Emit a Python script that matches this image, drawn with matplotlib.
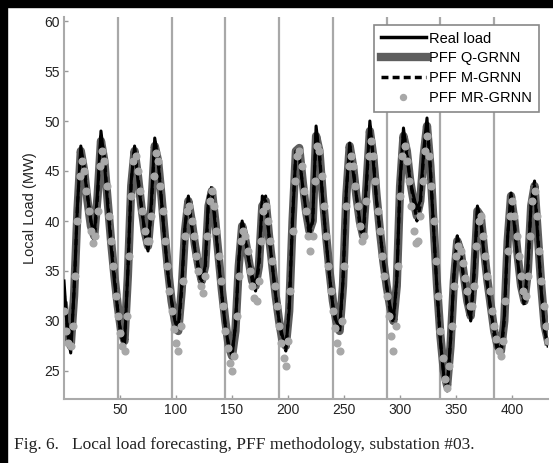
import numpy as np
import matplotlib
matplotlib.use("Agg")
import matplotlib.pyplot as plt
from matplotlib.lines import Line2D
from matplotlib.patches import Rectangle

plt.rcParams["font.family"] = ["Liberation Sans", "DejaVu Sans"]

# half-hour index: lines sampled every 3 steps, MR-GRNN points every 2 steps
x_start, x_stop = 0, 432
line_step, point_step = 3, 2

real_load = [34.0, 29.0, 26.8, 33.0, 41.5, 47.5, 45.0, 42.5, 40.0, 38.5, 43.0, 49.0, 46.0, 41.5, 37.5, 34.0,
             31.0, 28.5, 27.5, 35.0, 44.0, 47.5, 44.0, 41.5, 39.0, 37.0, 42.0, 48.3, 46.0, 42.0, 38.0, 34.5,
             32.0, 30.0, 29.5, 33.5, 39.5, 42.5, 39.5, 37.0, 35.5, 34.0, 35.5, 42.5, 43.0, 39.5, 36.0, 32.5,
             29.5, 27.5, 26.5, 29.5, 36.0, 40.0, 38.0, 36.0, 34.5, 33.5, 36.0, 42.5, 42.0, 38.5, 35.5, 32.5,
             30.0, 28.5, 27.3, 31.0, 40.0, 47.0, 46.5, 43.5, 41.0, 39.0, 40.0, 49.5, 46.5, 42.0, 38.0, 34.5,
             31.5, 30.0, 29.3, 34.0, 43.0, 47.8, 45.0, 42.5, 40.0, 38.5, 44.0, 50.0, 46.0, 42.0, 39.0, 36.0,
             33.5, 31.5, 30.2, 34.0, 44.0, 49.3, 46.5, 44.0, 42.5, 41.2, 42.0, 47.0, 50.3, 45.0, 39.0, 33.0,
             28.0, 24.5, 23.3, 28.0, 34.5, 38.5, 36.5, 34.0, 31.5, 30.3, 35.0, 41.5, 40.0, 36.5, 33.5, 31.0,
             29.0, 27.5, 27.0, 30.5, 38.5, 42.8, 39.5, 36.0, 33.0, 32.0, 35.5, 42.0, 43.5, 38.0, 33.0, 29.0,
             27.5]

pff_q_grnn = [31.5, 28.5, 27.5, 32.5, 41.0, 47.0, 45.0, 42.0, 39.5, 38.5, 42.5, 48.0, 46.0, 42.0, 38.0, 34.5,
              31.5, 29.0, 28.0, 34.5, 43.5, 47.0, 44.5, 41.5, 39.0, 37.5, 41.5, 47.5, 46.0, 42.5, 38.5, 35.0,
              32.0, 30.0, 29.0, 33.0, 39.0, 42.0, 40.0, 37.5, 35.5, 34.0, 35.5, 41.5, 43.0, 40.0, 36.5, 33.0,
              30.0, 27.5, 26.5, 29.0, 35.5, 39.5, 38.0, 36.0, 34.0, 33.5, 35.5, 41.5, 42.0, 38.5, 35.5, 32.5,
              30.0, 28.0, 27.5, 31.0, 40.0, 47.0, 47.3, 44.0, 41.0, 39.0, 40.0, 48.5, 47.0, 42.5, 38.5, 35.0,
              32.0, 30.0, 29.0, 33.5, 42.5, 47.5, 45.5, 42.5, 40.0, 38.5, 43.5, 49.0, 46.5, 42.5, 39.0, 36.0,
              33.5, 31.5, 30.0, 33.5, 43.5, 48.5, 47.0, 44.0, 42.0, 40.5, 42.0, 46.5, 49.5, 45.5, 39.5, 33.5,
              28.5, 25.0, 23.5, 27.5, 34.0, 38.0, 37.0, 34.5, 32.0, 30.5, 34.5, 41.0, 40.5, 37.0, 34.0, 31.5,
              29.0, 27.5, 27.0, 30.0, 38.0, 42.5, 40.0, 36.5, 33.5, 32.0, 35.0, 41.5, 43.5, 38.5, 33.5, 29.5,
              28.0]

pff_m_grnn = [33.0, 29.5, 27.3, 33.0, 41.5, 47.0, 45.5, 42.5, 40.0, 38.0, 42.5, 48.5, 46.5, 42.0, 38.0, 34.5,
              31.0, 28.5, 27.8, 35.0, 44.0, 47.3, 44.5, 41.5, 39.0, 37.0, 41.5, 48.0, 46.5, 42.0, 38.0, 34.5,
              32.0, 30.0, 29.0, 33.0, 39.5, 42.0, 39.5, 37.0, 35.0, 33.5, 35.0, 42.0, 43.5, 40.0, 36.0, 32.5,
              29.5, 27.5, 26.8, 29.5, 36.0, 40.0, 38.5, 36.0, 34.0, 33.0, 35.5, 42.0, 42.5, 38.5, 35.5, 32.5,
              30.0, 28.0, 27.0, 31.5, 40.5, 47.0, 46.5, 43.5, 41.0, 38.5, 40.0, 49.0, 47.0, 42.0, 38.0, 34.5,
              31.5, 29.5, 28.8, 34.0, 43.0, 47.5, 45.5, 42.5, 39.5, 38.0, 43.5, 49.5, 46.5, 42.0, 39.0, 36.0,
              33.5, 31.0, 29.8, 34.0, 44.0, 49.0, 47.0, 44.0, 42.0, 40.0, 41.5, 46.5, 49.8, 45.5, 39.0, 33.0,
              28.0, 24.5, 23.0, 28.0, 34.5, 38.5, 37.0, 34.0, 31.5, 30.0, 34.5, 41.0, 40.5, 36.5, 33.5, 31.0,
              28.5, 27.0, 26.5, 30.0, 38.5, 42.5, 40.0, 36.0, 33.0, 31.5, 35.0, 42.0, 44.0, 38.5, 33.0, 29.0,
              27.5]

pff_mr_grnn = [31.0, 29.0, 27.8, 27.5, 29.5, 34.5, 40.0, 44.5, 46.0, 45.0, 43.0, 41.0, 39.0, 37.8, 38.5, 41.0, 45.5, 47.0, 46.0, 43.5, 40.5, 38.0, 35.5, 32.5,
               30.5, 28.8, 27.5, 27.0, 30.5, 36.5, 42.5, 46.0, 46.5, 45.0, 43.0, 41.0, 39.0, 38.0, 38.0, 40.5, 44.5, 46.8, 46.0, 43.5, 41.0, 38.0, 35.5, 33.0,
               31.0, 29.2, 27.8, 27.0, 29.5, 34.0, 38.5, 41.0, 41.5, 40.0, 38.5, 36.5, 35.0, 33.5, 32.8, 34.5, 38.5, 42.0, 43.0, 41.5, 39.0, 36.5, 34.0, 31.5,
               29.0, 27.3, 25.8, 25.0, 26.5, 30.5, 34.5, 38.0, 39.0, 38.5, 37.0, 35.0, 33.5, 32.3, 32.0, 34.0, 38.0, 41.0, 41.5, 40.0, 38.0, 36.0, 33.5, 31.5,
               29.5, 27.8, 26.3, 25.5, 28.0, 33.0, 39.0, 44.0, 46.5, 47.0, 45.5, 43.0, 41.0, 38.5, 37.0, 38.5, 44.0, 47.5, 47.0, 44.5, 41.5, 38.5, 35.5, 33.0,
               31.0, 29.3, 27.8, 27.0, 30.0, 35.5, 41.5, 45.5, 46.5, 45.5, 43.5, 41.5, 39.5, 38.0, 38.5, 42.0, 46.5, 48.0, 46.5, 44.0, 41.0, 39.0, 36.5, 34.5,
               32.5, 30.5, 28.5, 27.0, 29.5, 35.5, 42.5, 46.5, 47.5, 46.0, 44.0, 41.5, 39.0, 37.8, 38.0, 40.5, 44.0, 47.0, 48.5, 46.5, 43.5, 40.0, 36.0, 32.5,
               29.0, 26.3, 24.2, 23.3, 25.5, 29.5, 33.5, 36.5, 37.5, 37.0, 35.8, 34.3, 33.0, 31.5, 31.5, 33.5, 37.5, 40.0, 40.5, 38.5, 36.5, 34.5, 33.0, 31.0,
               29.5, 28.2, 27.0, 26.5, 28.0, 32.0, 37.0, 40.5, 42.0, 40.5, 38.5, 36.5, 34.5, 33.0, 32.5, 34.5, 38.5, 42.0, 43.0, 40.5, 37.0, 34.0, 31.5, 29.5,
               28.0]

day_lines = [48, 96, 144, 192, 240, 288, 336, 384]
x_ticks = [50, 100, 150, 200, 250, 300, 350, 400]
y_ticks = [25, 30, 35, 40, 45, 50, 55, 60]
legend_labels = ["Real load", "PFF Q-GRNN", "PFF M-GRNN", "PFF MR-GRNN"]
caption = "Fig. 6.   Local load forecasting, PFF methodology, substation #03."

x_line = np.arange(x_start, x_stop + 1, line_step)
x_pts = np.arange(x_start, x_stop + 1, point_step)

fig = plt.figure(figsize=(5.53, 4.63), dpi=100)
ax = fig.add_axes([64 / 553, 64 / 463, 484 / 553, 382 / 463])

for d in day_lines:
    ax.axvline(d, color="#a8a8a8", lw=1.6, zorder=1)

ax.plot(x_line, pff_q_grnn, color="#5e5e5e", lw=6, solid_joinstyle="round", zorder=2)
ax.plot(x_line, real_load, color="black", lw=2.2, zorder=3)
ax.plot(x_line, pff_m_grnn, color="black", lw=2.2, ls=(0, (2.0, 1.5)), zorder=4)
ax.plot(x_pts, pff_mr_grnn, ls="none", marker="o", ms=4.8, mfc="#a8a8a8", mec="#a8a8a8", zorder=5)

ax.set_xlim(0, 432)
ax.set_ylim(22.2, 60.4)
ax.set_xticks(x_ticks)
ax.set_yticks(y_ticks)
ax.tick_params(direction="in", length=3, width=1, colors="#999999", labelcolor="#222222",
               labelsize=10, pad=3)
for s in ["top", "right"]:
    ax.spines[s].set_visible(False)
for s in ["left", "bottom"]:
    ax.spines[s].set_color("#aaaaaa")
    ax.spines[s].set_linewidth(1.5)
ax.set_ylabel("Local Load (MW)", fontsize=10.5, color="#222222", labelpad=5)

handles = [
    Line2D([], [], color="black", lw=2.5),
    Line2D([], [], color="#5e5e5e", lw=6),
    Line2D([], [], color="black", lw=2.5, ls=(0, (2.0, 1.2))),
    Line2D([], [], ls="none", marker="o", ms=4.3, mfc="#a8a8a8", mec="#a8a8a8"),
]
leg = ax.legend(handles, legend_labels, loc="upper right", bbox_to_anchor=(0.981, 0.979),
                borderaxespad=0, fontsize=10.5, frameon=True, fancybox=False, framealpha=1,
                edgecolor="#888888", handlelength=3.1, borderpad=0.45, labelspacing=0.4,
                handletextpad=0.25)
leg.get_frame().set_linewidth(1.2)

fig.text(14 / 553, 1 - 445 / 463, caption, family="Liberation Serif", fontsize=12.5,
         va="center", ha="left", color="#222222")

# scan border (black strips on top and left)
fig.patches.append(Rectangle((0, 1 - 7 / 463), 1, 7 / 463, transform=fig.transFigure,
                             color="black", zorder=10))
fig.patches.append(Rectangle((0, 0), 7 / 553, 1, transform=fig.transFigure,
                             color="black", zorder=10))

fig.savefig("out.png", dpi=100)
